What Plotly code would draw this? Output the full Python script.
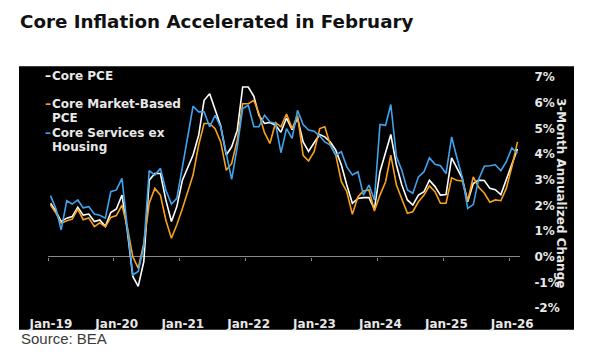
import plotly.graph_objects as go
import pandas as pd

# ---- data (3-month annualized % change), monthly Jan-2019 .. Feb-2026 ----
months = pd.date_range("2019-01-01", "2026-02-01", freq="MS") + pd.Timedelta(days=14)

core_pce = [2.08, 1.75, 1.37, 1.50, 1.56, 1.93, 1.62, 1.66, 1.37, 1.43, 1.18, 1.72,
            1.86, 2.40, 1.04, -0.77, -1.16, -0.19, 2.98, 3.24, 3.24, 2.21, 1.37, 1.95,
            2.98, 3.50, 3.96, 4.73, 6.09, 6.35, 5.77, 5.10, 3.96, 4.28, 4.93, 6.61,
            6.61, 6.25, 5.50, 5.19, 5.23, 5.12, 4.85, 5.40, 4.95, 5.40, 4.47, 4.10,
            4.44, 4.76, 4.67, 4.47, 4.15, 3.57, 2.79, 2.08, 2.27, 2.30, 2.30, 1.85,
            3.31, 4.02, 4.76, 3.57, 2.79, 2.21, 2.01, 2.40, 2.53, 2.98, 2.73, 2.40,
            2.42, 3.85, 3.47, 3.05, 2.14, 2.85, 2.98, 2.97, 2.66, 2.61, 2.42, 2.98,
            3.63, 4.20]

market_based = [2.01, 1.69, 1.30, 1.40, 1.46, 1.85, 1.44, 1.51, 1.17, 1.32, 1.16, 1.53,
                1.60, 2.01, 1.17, 0.00, -0.45, 0.52, 2.08, 2.66, 2.40, 1.43, 0.72, 1.24,
                1.88, 2.53, 3.18, 4.35, 5.19, 5.19, 4.99, 4.47, 3.37, 3.63, 4.54, 5.96,
                5.96, 6.09, 5.58, 4.83, 4.41, 5.22, 5.06, 5.56, 4.99, 5.50, 3.95, 3.73,
                4.09, 4.99, 5.06, 4.35, 3.96, 2.92, 2.53, 1.65, 2.34, 2.56, 2.60, 1.78,
                2.40, 2.92, 3.96, 2.79, 2.27, 1.69, 1.75, 2.14, 2.40, 2.76, 2.53, 2.08,
                2.08, 3.07, 2.98, 2.95, 2.17, 3.11, 2.70, 2.48, 2.12, 2.21, 2.18, 2.66,
                3.50, 4.47]

services_ex_housing = [2.38, 1.85, 1.04, 2.18, 2.05, 2.21, 1.90, 1.95, 1.66, 1.61, 1.50, 2.53,
                       2.60, 3.05, 1.17, -0.71, -0.58, 0.40, 3.35, 3.18, 3.44, 2.60, 2.05, 2.27,
                       3.50, 4.67, 5.86, 5.64, 5.64, 5.06, 5.51, 5.06, 4.05, 3.01, 4.28, 5.77,
                       5.90, 5.06, 5.06, 5.51, 5.25, 5.19, 4.05, 4.99, 4.61, 5.70, 5.15, 4.93,
                       4.89, 4.70, 4.47, 4.35, 3.96, 4.09, 3.50, 3.18, 3.31, 2.40, 2.79, 2.21,
                       5.15, 5.12, 5.93, 3.89, 3.37, 2.60, 2.47, 3.11, 3.31, 3.85, 3.60, 3.54,
                       3.24, 4.66, 3.89, 3.10, 1.88, 2.03, 3.02, 3.52, 3.54, 3.58, 3.35, 3.70,
                       4.24, 4.03]

series_names = ["Core PCE", "Core Market-Based PCE", "Core Services ex Housing"]
legend_lines = [["Core PCE"], ["Core Market-Based", "PCE"], ["Core Services ex", "Housing"]]
series_colors = ["#FFFFFF", "#F7A11A", "#3FA3EE"]

year_ticks = pd.date_range("2019-01-01", "2026-01-01", freq="YS")
year_labels = ["Jan-19", "Jan-20", "Jan-21", "Jan-22", "Jan-23", "Jan-24", "Jan-25", "Jan-26"]
y_ticks = [-2, -1, 0, 1, 2, 3, 4, 5, 6, 7]
y_labels = ["-2%", "-1%", "0%", "1%", "2%", "3%", "4%", "5%", "6%", "7%"]

# ---- layout geometry (pixels) ----
W, H = 590, 353
PL, PR, PT, PB = 48, 520, 76.7, 308.3
pw, ph = PR - PL, PB - PT


def px_x(px):
    return (px - PL) / pw


def px_y(py):
    return (PB - py) / ph


FONT = "DejaVu Sans"
TXT = "#E8E8E8"

fig = go.Figure()
for vals, name, col in zip([core_pce, market_based, services_ex_housing], series_names, series_colors):
    fig.add_trace(go.Scatter(x=months, y=vals, mode="lines", name=name,
                             line=dict(color=col, width=1.6), showlegend=False))

# helper trace for the secondary x axis (tick marks on the zero line)
fig.add_trace(go.Scatter(x=[months[0]], y=[None], xaxis="x2", mode="lines",
                         showlegend=False, hoverinfo="skip"))

x_range = [pd.Timestamp("2019-01-01"), pd.Timestamp("2026-03-01")]

fig.update_layout(
    width=W, height=H,
    margin=dict(l=PL, r=W - PR, t=PT, b=H - PB, pad=0, autoexpand=False),
    paper_bgcolor="white", plot_bgcolor="black",
    title=dict(text="<b>Core Inflation Accelerated in February</b>",
               x=20 / W, xref="container", xanchor="left",
               y=1 - 22 / H, yref="container", yanchor="middle",
               font=dict(family=FONT, size=18.3, color="#111111")),
    xaxis=dict(range=x_range, tickvals=list(year_ticks + pd.Timedelta(days=16)),
               ticktext=year_labels, showgrid=False, zeroline=False, showline=False,
               ticks="outside", ticklen=5, tickcolor="rgba(0,0,0,0)",
               tickfont=dict(family=FONT, size=12, color=TXT, weight="bold")),
    xaxis2=dict(range=x_range, overlaying="x", anchor="free", position=px_y(256.8),
                side="bottom", tickvals=list(year_ticks), showticklabels=False,
                ticks="outside", ticklen=3, tickcolor="#8A8A8A", tickwidth=1,
                showgrid=False, zeroline=False, showline=False),
    yaxis=dict(range=[-2.0001, 7.0001], side="right", tickvals=y_ticks, ticktext=y_labels,
               showgrid=False, zeroline=True, zerolinecolor="#8A8A8A", zerolinewidth=1,
               showline=False, ticks="outside", ticklen=11, tickcolor="rgba(0,0,0,0)",
               tickfont=dict(family=FONT, size=12, color=TXT, weight="bold")),
    shapes=[dict(type="rect", xref="paper", yref="paper", layer="below",
                 x0=px_x(19), x1=px_x(574), y0=px_y(330), y1=px_y(66),
                 fillcolor="black", line=dict(width=0))],
)

ann = []
# y axis title (reads top to bottom)
ann.append(dict(text="<b>3-Month Annualized Change</b>", textangle=90,
                x=px_x(561.5), y=0.5, xref="paper", yref="paper",
                xanchor="center", yanchor="middle", showarrow=False,
                font=dict(family=FONT, size=12, color=TXT)))
# legend built from text, one annotation per line
legend_centers = [[76], [103.5, 118], [132.5, 147]]
for lines, col, cys in zip(legend_lines, series_colors, legend_centers):
    ann.append(dict(text="<b>–</b>", x=px_x(51.5), y=px_y(cys[0]), xref="paper", yref="paper",
                    xanchor="right", yanchor="middle", showarrow=False, borderpad=0,
                    font=dict(family=FONT, size=12, color=col)))
    for line, cy in zip(lines, cys):
        ann.append(dict(text="<b>" + line + "</b>", x=px_x(50.5), y=px_y(cy),
                        xref="paper", yref="paper", xanchor="left", yanchor="middle",
                        align="left", showarrow=False, borderpad=0,
                        font=dict(family=FONT, size=12, color=TXT)))
# source
ann.append(dict(text="Source: BEA", x=px_x(19), y=px_y(339), xref="paper", yref="paper",
                xanchor="left", yanchor="middle", showarrow=False,
                font=dict(family="Liberation Sans", size=15, color="#3A3A3A")))
fig.update_layout(annotations=ann)

fig.write_html("out.html")
